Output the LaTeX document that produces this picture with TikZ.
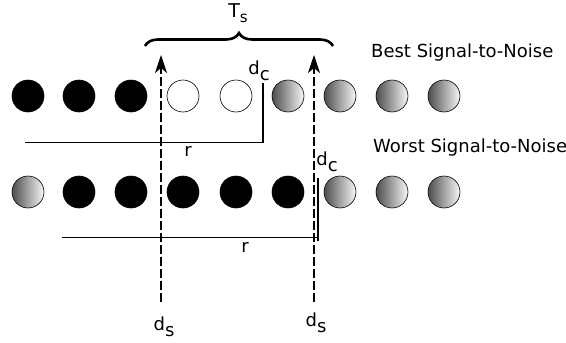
\documentclass[tikz,border=0pt]{standalone}
\usepackage{fontspec}
\setmainfont{DejaVu Sans}
\usetikzlibrary{decorations.pathreplacing,arrows.meta,shapes.geometric}
\newcommand\lowsub[2]{#1\raisebox{-0.6ex}{#2}}
\begin{document}
\begin{tikzpicture}[x=1pt,y=-1pt,
  ball/.style={circle, draw=black, line width=0.6pt, minimum size=32pt, inner sep=0pt},
  blackball/.style={ball, fill=black},
  whiteball/.style={ball, fill=white},
  grayball/.style={ball, left color=black!70, right color=black!3},
  lbl/.style={font=\fontsize{18}{20}\selectfont, inner sep=0pt},
  dashline/.style={line width=1.1pt, dash pattern=on 9pt off 3pt},
  wall/.style={line width=2.2pt},
  rline/.style={line width=0.9pt}]
\useasboundingbox (0,0) rectangle (566,343);
% top row
\node[blackball] (t1) at (28,96) {};
\node[blackball] (t2) at (79,96) {};
\node[blackball] (t3) at (131,96) {};
\node[whiteball] (t4) at (183,96) {};
\node[whiteball] (t5) at (236,96) {};
\node[grayball] (t6) at (288,96) {};
\node[grayball] (t7) at (340,96) {};
\node[grayball] (t8) at (392,96) {};
\node[grayball] (t9) at (444,96) {};
% bottom row
\node[grayball] (b1) at (28,192) {};
\node[blackball] (b2) at (79,192) {};
\node[blackball] (b3) at (131,192) {};
\node[blackball] (b4) at (183,192) {};
\node[blackball] (b5) at (236,192) {};
\node[blackball] (b6) at (288,192) {};
\node[grayball] (b7) at (340,192) {};
\node[grayball] (b8) at (392,192) {};
\node[grayball] (b9) at (444,192) {};
% texts
\node[lbl, anchor=west] (best) at (371,53) {Best Signal-to-Noise};
\node[lbl, anchor=west] (worst) at (373,148) {Worst Signal-to-Noise};
\node[lbl, font=\fontsize{19}{21}\selectfont] (ts) at (238,13) {T\raisebox{-0.5ex}{\fontsize{15}{17}\selectfont s}};
\node[lbl] (dc1) at (259,71) {\lowsub{d}{c}};
\node[lbl] (dc2) at (327,162) {\lowsub{d}{c}};
\node[lbl] (r1) at (188,151) {r};
\node[lbl] (r2) at (245,247) {r};
\node[lbl] (ds1) at (164,327) {\lowsub{d}{s}};
\node[lbl] (ds2) at (316,323) {\lowsub{d}{s}};
% dashed arrows
\coordinate (a1top) at (161,55);
\coordinate (a1bot) at (161,302);
\coordinate (a2top) at (314,55);
\coordinate (a2bot) at (314,302);
\draw[dashline, -{Stealth[length=18pt,width=12pt,inset=5pt]}] (a1bot) -- (a1top);
\draw[dashline, -{Stealth[length=18pt,width=12pt,inset=5pt]}] (a2bot) -- (a2top);
% brace
\coordinate (brL) at (145,46);
\coordinate (brR) at (333,46);
\draw[line width=2.6pt, decorate, decoration={brace, amplitude=13pt}] (brL) -- (brR);
% top wall and r
\coordinate (w1top) at (263,83);
\coordinate (w1bot) at (263,143);
\coordinate (r1left) at (25,142);
\draw[wall] (w1top) -- (w1bot);
\draw[rline] (r1left) -- (w1bot |- r1left);
% bottom wall and r
\coordinate (w2top) at (318,178);
\coordinate (w2bot) at (318,241);
\coordinate (r2left) at (62,237);
\draw[wall] (w2top) -- (w2bot);
\draw[rline] (r2left) -- (w2bot |- r2left);
\end{tikzpicture}
\end{document}
